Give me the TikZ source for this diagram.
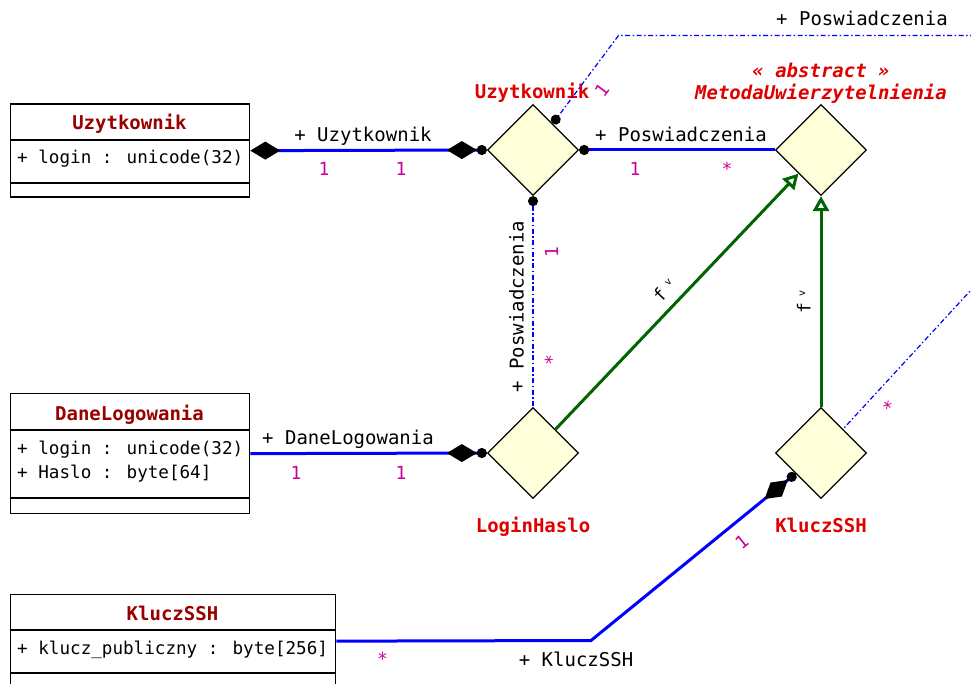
\documentclass[tikz,border=0pt]{standalone}
\usepackage{fontspec}
\setmainfont{DejaVu Sans Mono}
\usetikzlibrary{shapes.geometric,arrows.meta}
\definecolor{ttl}{HTML}{990000}
\definecolor{rd}{HTML}{E00000}
\definecolor{mult}{HTML}{CC0099}
\definecolor{assoc}{HTML}{0000FF}
\definecolor{gen}{HTML}{006400}
\definecolor{dfill}{HTML}{FFFFD9}
\tikzset{
  cdiam/.tip={Diamond[length=30pt,width=18pt,color=black,fill=black]},
  cdot/.tip={Circle[length=10pt,color=black,fill=black]},
  cdd/.tip={Diamond[length=30pt,width=18pt,color=black,fill=black] Circle[length=10pt,color=black,fill=black]},
}
\begin{document}
\begin{tikzpicture}[x=1pt,y=-1pt,
  classbox/.style={draw=black, line width=1.3pt, fill=white, inner sep=0pt, anchor=north west},
  ttlstyle/.style={font=\fontsize{19}{22}\selectfont\bfseries, text=ttl, anchor=base, inner sep=0pt},
  attrstyle/.style={font=\fontsize{17.6}{22}\selectfont, anchor=base west, inner sep=0pt},
  objnode/.style={diamond, draw=black, line width=1.3pt, fill=dfill, minimum width=91pt, minimum height=91pt, inner sep=0pt, aspect=1},
  objname/.style={font=\fontsize{19}{22}\selectfont\bfseries, text=rd, anchor=base, inner sep=0pt},
  role/.style={font=\fontsize{19}{22}\selectfont, anchor=base, inner sep=0pt},
  genlbl/.style={font=\fontsize{18}{20}\selectfont, anchor=base, inner sep=0pt},
  mul/.style={font=\fontsize{18}{22}\selectfont, text=mult, anchor=base, inner sep=0pt},
  strongline/.style={draw=assoc, line width=3pt},
  weakline/.style={draw=assoc, line width=1.2pt, dash pattern=on 5pt off 2.5pt on 1.5pt off 2.5pt},
  genline/.style={draw=gen, line width=3pt, -{Triangle[open,length=15pt,width=16pt,fill=white]}},
]
\useasboundingbox (0,0) rectangle (971,684);
\clip (0,0) rectangle (971,684);

% classes
\node[classbox, minimum width=239pt, minimum height=93pt] (uzc) at (10,103.5) {};
\draw[line width=1.3pt] (10,140) -- (249,140) (10,183) -- (249,183);
\node[ttlstyle] (uzt) at (129.5,130) {Uzytkownik};
\node[attrstyle] (uza) at (17,164) {+ login : unicode(32)};

\node[classbox, minimum width=239pt, minimum height=120pt] (dlc) at (10,393) {};
\draw[line width=1.3pt] (10,430) -- (249,430) (10,498) -- (249,498);
\node[ttlstyle] (dlt) at (129.5,420) {DaneLogowania};
\node[attrstyle] (dla1) at (17,454) {+ login : unicode(32)};
\node[attrstyle] (dla2) at (17,478.5) {+ Haslo : byte[64]};

\node[classbox, minimum width=325pt, minimum height=93pt] (ksc) at (10,594) {};
\draw[line width=1.3pt] (10,630) -- (335,630) (10,673) -- (335,673);
\node[ttlstyle] (kst) at (172.5,620.5) {KluczSSH};
\node[attrstyle] (ksa) at (17,654) {+ klucz\_publiczny : byte[256]};

% objects
\node[objnode] (uzd) at (533,150) {};
\node[objnode] (md) at (821,150) {};
\node[objnode] (lhd) at (533,453) {};
\node[objnode] (ksd) at (821,453) {};

\node[objname] (uzn) at (532,99) {Uzytkownik};
\node[objname, font=\fontsize{19}{22}\selectfont\bfseries\itshape] (mst) at (821,78) {« abstract »};
\node[objname, font=\fontsize{19}{22}\selectfont\bfseries\itshape] (mn) at (821,100) {MetodaUwierzytelnienia};
\node[objname] (lhn) at (533,532.5) {LoginHaslo};
\node[objname] (ksn) at (821,532.7) {KluczSSH};

% connectors
\coordinate (topR) at (975,35.5);
\coordinate (topC) at (618.5,35.5);
\coordinate (ksR) at (975,285.7);
\coordinate (kbend) at (591,640.5);

\draw[strongline, {cdiam}-{cdd}] (uzc.east) -- (uzd.west);
\draw[strongline, {cdot}-] (uzd.east) -- (md.west);
\draw[weakline, -{cdot}] (topR) -- (topC) -- (uzd);
\draw[weakline, {cdot}-] (uzd.south) -- (lhd.north);
\draw[strongline, -{cdd}] (dlc.east) -- (lhd.west);
\draw[strongline, -{cdd}] (ksc.east) -- (kbend) -- (ksd);
\draw[weakline] (ksR) -- (ksd);
\draw[genline] (lhd) -- (md);
\draw[genline] (ksd.north) -- (md.south);

% labels
\node[role] (l1) at (363,141.5) {+ Uzytkownik};
\node[mul] (m1a) at (324,176) {1};
\node[mul] (m1b) at (401,176) {1};
\node[role] (l2) at (681,141.7) {+ Poswiadczenia};
\node[mul] (m2a) at (635,176) {1};
\node[mul] (m2b) at (727,176) {*};
\node[role] (l3) at (862,26) {+ Poswiadczenia};
\node[mul, rotate=53.4] (m3a) at (607,94.4) {1};
\node[role, rotate=90] (l4) at (523.5,306.7) {+ Poswiadczenia};
\node[mul, rotate=90] (m4a) at (558,252.5) {1};
\node[mul, rotate=90] (m4b) at (558,360) {*};
\node[role] (l5) at (348,444) {+ DaneLogowania};
\node[mul] (m5a) at (296,479.3) {1};
\node[mul] (m5b) at (401,479.3) {1};
\node[role] (l6) at (576,666) {+ KluczSSH};
\node[mul] (m6a) at (382.5,665) {*};
\node[mul, rotate=39] (m6b) at (745.8,547) {1};
\node[mul, rotate=47.4] (m7) at (894.3,412) {*};
\node[genlbl, rotate=46.2] (f1) at (669,295) {f\hspace{7pt}\raisebox{6.5pt}{\fontsize{10}{10}\selectfont v}};
\node[genlbl, rotate=90] (f2) at (810.5,302.3) {f\hspace{6pt}\raisebox{5.5pt}{\fontsize{10}{10}\selectfont v}};
\end{tikzpicture}
\end{document}
